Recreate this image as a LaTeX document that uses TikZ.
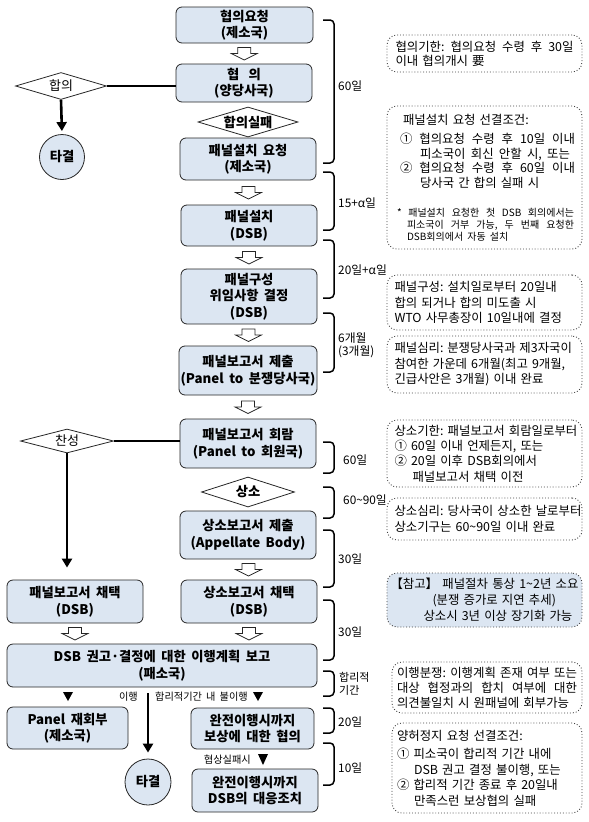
\documentclass[tikz,border=0pt]{standalone}
\usepackage{fontspec}
\setmainfont{Noto Sans CJK KR}[WordSpace=1.8]
\usetikzlibrary{shapes.geometric,arrows.meta,calc}
\definecolor{boxblue}{RGB}{220,230,242}
\frenchspacing
\newcommand\strline[2]{\makebox[#1][s]{\spaceskip=0.3em plus 1fil\relax #2}}
\begin{document}
\begin{tikzpicture}[x=1pt,y=-1pt,
  flowbox/.style={draw=black!85, line width=0.8pt, rounded corners=6pt, fill=boxblue, align=center, inner sep=0pt, font=\bfseries\fontsize{13.3}{16.5}\selectfont},
  decision/.style={draw=black!85, line width=0.8pt, diamond, aspect=3.4, inner sep=0pt, fill=white, font=\fontsize{13}{14}\selectfont},
  bolddec/.style={decision, font=\bfseries\fontsize{13.3}{14}\selectfont},
  endcirc/.style={draw=black!85, line width=0.8pt, circle, fill=boxblue, inner sep=0pt, minimum size=45pt, font=\bfseries\fontsize{13.3}{14}\selectfont},
  notebox/.style={draw=black!75, dotted, line width=0.9pt, rounded corners=10pt, align=left, inner ysep=0pt, font=\fontsize{12.4}{15}\selectfont},
  bracket/.style={line width=1.5pt, rounded corners=4pt},
  heavy/.style={line width=2.6pt},
  headtip/.style={-{Triangle[width=10pt,length=9pt]}},
  brlabel/.style={anchor=west, inner sep=0pt, font=\fontsize{11.8}{13}\selectfont, align=left},
  tinylabel/.style={inner sep=0pt, font=\fontsize{10.2}{11}\selectfont},
  harrow/.pic={\draw[line width=0.7pt, fill=white, draw=black!85] (-6.5,-6) -- (6.5,-6) -- (6.5,0) -- (13,0) -- (0,6.5) -- (-13,0) -- (-6.5,0) -- cycle;},
]
\useasboundingbox (0,0) rectangle (589,822);

% ---------- main flow ----------
\node[flowbox, minimum width=137pt, minimum height=36pt] (b1) at (244.5,25) {협의요청\\(제소국)};
\node[flowbox, minimum width=136pt, minimum height=38pt] (b2) at (244,83) {협\hspace{0.7em}의\\(양당사국)};
\node[decision, minimum width=91pt, minimum height=27pt] (d1) at (61,86) {합의};
\node[endcirc] (c1) at (62,157) {타결};
\node[bolddec, minimum width=100pt, minimum height=30pt] (d2) at (248,122) {합의실패};
\node[flowbox, minimum width=136pt, minimum height=42pt] (b3) at (248,159) {패널설치 요청\\(제소국)};
\node[flowbox, minimum width=136pt, minimum height=41pt] (b4) at (249,225.5) {패널설치\\(DSB)};
\node[flowbox, minimum width=136pt, minimum height=55pt] (b5) at (249,296.5) {패널구성\\위임사항 결정\\(DSB)};
\node[flowbox, minimum width=138pt, minimum height=49pt] (b6) at (248,370.5) {패널보고서 제출\\(Panel to 분쟁당사국)};
\node[flowbox, minimum width=136pt, minimum height=49pt] (b7) at (248,443.5) {패널보고서 회람\\(Panel to 회원국)};
\node[decision, minimum width=93pt, minimum height=24pt] (d3) at (67,441) {찬성};
\node[bolddec, minimum width=93pt, minimum height=30pt] (d4) at (248,492) {상소};
\node[flowbox, minimum width=136pt, minimum height=48pt] (b8) at (248,535) {상소보고서 제출\\(Appellate Body)};
\node[flowbox, minimum width=136pt, minimum height=43pt] (b9) at (249,601.5) {상소보고서 채택\\(DSB)};
\node[flowbox, minimum width=136pt, minimum height=43pt] (b10) at (75,601.5) {패널보고서 채택\\(DSB)};
\node[flowbox, minimum width=310pt, minimum height=43pt] (b11) at (162,665.5) {DSB 권고·결정에 대한 이행계획 보고\\(패소국)};
\node[flowbox, minimum width=121pt, minimum height=42pt] (b12) at (67.5,728) {Panel 재회부\\(제소국)};
\node[flowbox, minimum width=123pt, minimum height=41pt] (b13) at (252.5,728.5) {완전이행시까지\\보상에 대한 협의};
\node[endcirc, minimum size=46pt] (c2) at (148,782) {타결};
\node[flowbox, minimum width=126pt, minimum height=43pt] (b14) at (255,790.5) {완전이행시까지\\DSB의 대응조치};

% ---------- hollow arrows ----------
\pic at ($(b1.south)!0.5!(b2.north)$) {harrow};
\pic at ($(b3.south)!0.5!(b4.north)$) {harrow};
\pic at ($(b4.south)!0.5!(b5.north)$) {harrow};
\pic at ($(b5.south)!0.5!(b6.north)$) {harrow};
\pic at ($(b6.south)!0.5!(b7.north)$) {harrow};
\pic at ($(b8.south)!0.5!(b9.north)$) {harrow};
\pic at ($(b9.south)!0.5!(b9.south |- b11.north)$) {harrow};
\pic at ($(b10.south)!0.5!(b10.south |- b11.north)$) {harrow};

% ---------- heavy connectors ----------
\draw[heavy] (d1.east) -- (d1.east -| b2.west);
\draw[heavy, headtip, shorten >=3pt] (d1.south) -- (c1.north);
\draw[heavy] (d3.east) -- (d3.east -| b7.west);
\draw[heavy, headtip, shorten >=12pt] (d3.south) -- (d3.south |- b10.north);
\draw[heavy, headtip, shorten <=6pt, shorten >=6pt] (c2 |- b11.south) -- (c2.north);

% ---------- filled triangles ----------
\fill (63,692) -- (73,692) -- (68,701) -- cycle;
\fill (253,692) -- (263,692) -- (258,701) -- cycle;
\fill (258,754) -- (268,754) -- (263,765) -- cycle;

\node[tinylabel, anchor=east] (t1) at (138,697) {이행};
\node[tinylabel, anchor=west] (t2) at (155,697) {합리적기간 내 불이행};
\node[tinylabel, anchor=east] (t3) at (251,760) {협상실패시};

% ---------- brackets ----------
\draw[bracket] (323,20) -- (334,20) -- (334,163) -- (323,163);
\draw[bracket] (323,172) -- (334,172) -- (334,230) -- (323,230);
\draw[bracket] (323,240) -- (334,240) -- (334,298) -- (323,298);
\draw[bracket] (323,313) -- (334,313) -- (334,372) -- (323,372);
\draw[bracket] (323,442) -- (334,442) -- (334,473) -- (323,473);
\draw[bracket] (323,487) -- (334,487) -- (334,518) -- (323,518);
\draw[bracket] (323,530) -- (334,530) -- (334,587) -- (323,587);
\draw[bracket] (323,600) -- (334,600) -- (334,660) -- (323,660);
\draw[bracket] (323,671) -- (334,671) -- (334,696) -- (323,696);
\draw[bracket] (323,708) -- (334,708) -- (334,733) -- (323,733);
\draw[bracket] (323,743) -- (334,743) -- (334,785) -- (323,785);

\node[brlabel] (l1) at (338,86) {60일};
\node[brlabel] (l2) at (338,203) {15+α일};
\node[brlabel] (l3) at (338,270) {20일+α일};
\node[brlabel] (l4) at (338,345) {6개월\\(3개월)};
\node[brlabel] (l5) at (343,460) {60일};
\node[brlabel] (l6) at (343,500) {60\textasciitilde 90일};
\node[brlabel] (l7) at (338,559) {30일};
\node[brlabel] (l8) at (338,632) {30일};
\node[brlabel, font=\fontsize{11}{13}\selectfont] (l9) at (339,683.5) {합리적\\기간};
\node[brlabel] (l10) at (338,722) {20일};
\node[brlabel] (l11) at (338,768) {10일};

% ---------- notes ----------
\node[notebox, minimum height=37pt, text width=178pt, inner xsep=8.5pt, font=\fontsize{12.4}{14}\selectfont] (n1) at (484.5,53.5)
 {\strline{178pt}{협의기한: 협의요청 수령 후 30일}\\\mbox{이내 협의개시 要}};

\node[notebox, minimum height=143pt, text width=180pt, inner xsep=7.5pt] (n2) at (484.5,177.5)
 {{\fontsize{12.4}{14.5}\selectfont\hspace*{8.5pt}\mbox{패널설치 요청 선결조건:}\par}%
  \vspace{5pt}%
  {\fontsize{12.4}{14.5}\selectfont
  \hspace*{5.5pt}\strline{175pt}{① 협의요청 수령 후 10일 이내}\\
  \hspace*{25.5pt}\strline{150pt}{피소국이 회신 안할 시, 또는}\\
  \hspace*{5.5pt}\strline{175pt}{② 협의요청 수령 후 60일 이내}\\
  \hspace*{25.5pt}\mbox{당사국 간 합의 실패 시}\par}%
  \vspace{17pt}%
  {\fontsize{10}{12}\selectfont
  \hspace*{2.5pt}\strline{177pt}{* 패널설치 요청한 첫 DSB 회의에서는}\\
  \hspace*{12.5pt}\strline{167pt}{피소국이 거부 가능, 두 번째 요청한}\\
  \hspace*{12.5pt}\mbox{DSB회의에서 자동 설치}\par}};

\node[notebox, minimum height=55pt, text width=180pt, inner xsep=7.5pt, font=\fontsize{12.4}{15.5}\selectfont] (n3) at (484.5,302.5)
 {\mbox{패널구성: 설치일로부터 20일내}\\\mbox{합의 되거나 합의 미도출 시}\\\mbox{WTO 사무총장이 10일내에 결정}};

\node[notebox, minimum height=57pt, text width=180pt, inner xsep=7.5pt, font=\fontsize{12.4}{15.5}\selectfont] (n4) at (484.5,364.5)
 {\strline{177pt}{패널심리: 분쟁당사국과 제3자국이}\\\mbox{참여한 가운데 6개월(최고 9개월,}\\\mbox{긴급사안은 3개월) 이내 완료}};

\node[notebox, minimum height=67pt, text width=180pt, inner xsep=7.5pt, font=\fontsize{12.4}{15.3}\selectfont] (n5) at (484.5,453.5)
 {\mbox{상소기한: 패널보고서 회람일로부터}\\\mbox{① 60일 이내 언제든지, 또는}\\\mbox{② 20일 이후 DSB회의에서}\\\hspace*{18pt}\mbox{패널보고서 채택 이전}};

\node[notebox, minimum height=42pt, text width=180pt, inner xsep=7.5pt, font=\fontsize{12.4}{16}\selectfont] (n6) at (484.5,519)
 {\mbox{상소심리: 당사국이 상소한 날로부터}\\\mbox{상소기구는 60\textasciitilde 90일 이내 완료}};

\node[notebox, fill=boxblue, minimum height=54pt, text width=188pt, inner xsep=3.5pt, font=\fontsize{12.4}{16}\selectfont] (n7) at (484.5,600)
 {\strline{188pt}{【참고】 패널절차 통상 1\textasciitilde 2년 소요}\\\hspace*{42pt}\mbox{(분쟁 증가로 지연 추세)}\\\hspace*{33pt}\mbox{상소시 3년 이상 장기화 가능}};

\node[notebox, minimum height=51pt, text width=180pt, inner xsep=5pt, font=\fontsize{12.4}{15}\selectfont] (n8) at (487,687.5)
 {\strline{180pt}{이행분쟁: 이행계획 존재 여부 또는}\\\strline{180pt}{대상 협정과의 합치 여부에 대한}\\\mbox{의견불일치 시 원패널에 회부가능}};

\node[notebox, minimum height=90pt, text width=180pt, inner xsep=5pt, font=\fontsize{12.4}{15.5}\selectfont] (n9) at (487,768)
 {\mbox{양허정지 요청 선결조건:}\\[3pt]\mbox{① 피소국이 합리적 기간 내에}\\\hspace*{17pt}\mbox{DSB 권고 결정 불이행, 또는}\\\mbox{② 합리적 기간 종료 후 20일내}\\\hspace*{17pt}\mbox{만족스런 보상협의 실패}};

\end{tikzpicture}
\end{document}
